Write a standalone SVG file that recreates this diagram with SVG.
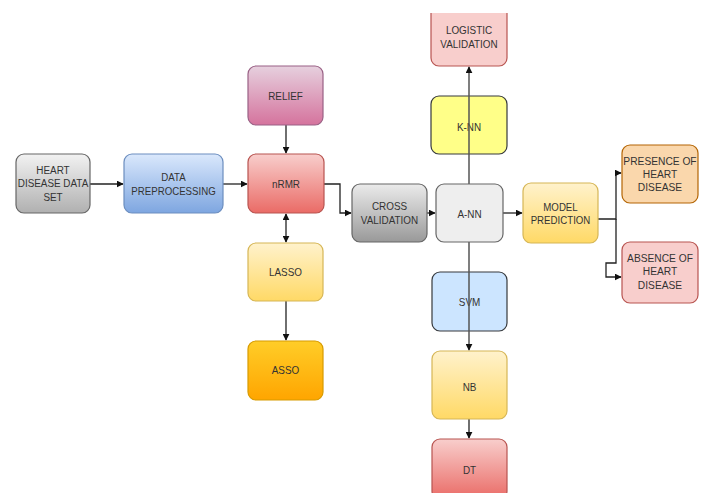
<svg xmlns="http://www.w3.org/2000/svg" width="705" height="493" viewBox="0 0 705 493">
<defs>
<linearGradient id="gGray" x1="0" y1="0" x2="0" y2="1"><stop offset="0" stop-color="#f2f2f2"/><stop offset="1" stop-color="#b0b0b0"/></linearGradient>
<linearGradient id="gGray2" x1="0" y1="0" x2="0" y2="1"><stop offset="0" stop-color="#ebebeb"/><stop offset="1" stop-color="#999999"/></linearGradient>
<linearGradient id="gBlue" x1="0" y1="0" x2="0" y2="1"><stop offset="0" stop-color="#dae8fc"/><stop offset="1" stop-color="#7ea6e0"/></linearGradient>
<linearGradient id="gRed" x1="0" y1="0" x2="0" y2="1"><stop offset="0" stop-color="#f8cecc"/><stop offset="1" stop-color="#ea6b66"/></linearGradient>
<linearGradient id="gPurple" x1="0" y1="0" x2="0" y2="1"><stop offset="0" stop-color="#e6d0de"/><stop offset="1" stop-color="#d5739d"/></linearGradient>
<linearGradient id="gYellow" x1="0" y1="0" x2="0" y2="1"><stop offset="0" stop-color="#fff2cc"/><stop offset="1" stop-color="#ffd966"/></linearGradient>
<linearGradient id="gOrange" x1="0" y1="0" x2="0" y2="1"><stop offset="0" stop-color="#ffcd28"/><stop offset="1" stop-color="#ffa500"/></linearGradient>
<marker id="arr" viewBox="0 0 10 10" refX="9" refY="5" markerWidth="7" markerHeight="7" markerUnits="userSpaceOnUse" orient="auto-start-reverse">
<path d="M0,0 L10,5 L0,10 z" fill="#111"/>
</marker>
<clipPath id="clipTop"><rect x="0" y="13" width="705" height="480"/></clipPath>
</defs>
<style>
.box{stroke-width:1.2}
.lbl{font-family:"Liberation Sans",Arial,sans-serif;font-size:11px;fill:#333;text-anchor:middle}
.con{fill:none;stroke:#222;stroke-width:1.3}
.vcon{fill:none;stroke:#555;stroke-width:1.5}
</style>

<g id="connectors">
<line class="con" x1="90" y1="184" x2="123" y2="184" marker-end="url(#arr)"/>
<line class="con" x1="223" y1="184" x2="247" y2="184" marker-end="url(#arr)"/>
<line class="con" x1="286" y1="125" x2="286" y2="153" marker-end="url(#arr)"/>
<line class="con" x1="286" y1="214" x2="286" y2="242" marker-start="url(#arr)" marker-end="url(#arr)"/>
<line class="con" x1="286" y1="301" x2="286" y2="340" marker-end="url(#arr)"/>
<polyline class="con" points="324,184 340,184 340,213 351,213" marker-end="url(#arr)"/>
<line class="con" x1="427" y1="213" x2="435" y2="213" marker-end="url(#arr)"/>
<line class="con" x1="503" y1="213" x2="522" y2="213" marker-end="url(#arr)"/>
<polyline class="con" points="598,219 616,219 616,173 621,173" marker-end="url(#arr)"/>
<polyline class="con" points="616,219 616,263 606,263 606,277 621,277" marker-end="url(#arr)"/>
<line class="con" x1="469" y1="419" x2="469" y2="438" marker-end="url(#arr)"/>
</g>

<g id="heart-data"><rect class="box" x="16" y="154" width="74" height="59" rx="8" fill="url(#gGray)" stroke="#666"/>
<text class="lbl" transform="translate(53,174) scale(0.9 1)"><tspan x="0" y="0">HEART</tspan><tspan x="0" y="13.5">DISEASE DATA</tspan><tspan x="0" y="27">SET</tspan></text></g>

<g id="data-preprocessing"><rect class="box" x="124" y="154" width="99" height="59" rx="8" fill="url(#gBlue)" stroke="#6c8ebf"/>
<text class="lbl" transform="translate(173.5,181) scale(0.88 1)"><tspan x="0" y="0">DATA</tspan><tspan x="0" y="14">PREPROCESSING</tspan></text></g>

<g id="relief"><rect class="box" x="248" y="66" width="75" height="59" rx="8" fill="url(#gPurple)" stroke="#996185"/>
<text class="lbl" transform="translate(285.5,100) scale(0.9 1)">RELIEF</text></g>

<g id="nrmr"><rect class="box" x="248" y="154" width="76" height="59" rx="8" fill="url(#gRed)" stroke="#b85450"/>
<text class="lbl" transform="translate(286,187.5) scale(0.9 1)">nRMR</text></g>

<g id="lasso"><rect class="box" x="248" y="243" width="75" height="58" rx="8" fill="url(#gYellow)" stroke="#d6b656"/>
<text class="lbl" transform="translate(285.5,276) scale(0.9 1)">LASSO</text></g>

<g id="asso"><rect class="box" x="248" y="341" width="75" height="59" rx="8" fill="url(#gOrange)" stroke="#d79b00"/>
<text class="lbl" transform="translate(285.5,374) scale(0.9 1)">ASSO</text></g>

<g id="cross-validation"><rect class="box" x="352" y="184" width="75" height="58" rx="8" fill="url(#gGray2)" stroke="#666"/>
<text class="lbl" transform="translate(389.5,210) scale(0.9 1)"><tspan x="0" y="0">CROSS</tspan><tspan x="0" y="14.5">VALIDATION</tspan></text></g>

<g id="logistic-validation"><rect class="box" x="431" y="0" width="76" height="66" rx="8" fill="#f8cecc" stroke="#b85450" clip-path="url(#clipTop)"/>
<text class="lbl" transform="translate(469,34) scale(0.9 1)"><tspan x="0" y="0">LOGISTIC</tspan><tspan x="0" y="14">VALIDATION</tspan></text></g>

<g id="knn"><rect class="box" x="431" y="96" width="76" height="58" rx="8" fill="#ffff88" stroke="#36393d"/>
<text class="lbl" transform="translate(469,130.5) scale(0.9 1)">K-NN</text></g>

<g id="svm"><rect class="box" x="432" y="272" width="75" height="59" rx="8" fill="#cce5ff" stroke="#36393d"/>
<text class="lbl" transform="translate(469.5,306) scale(0.9 1)">SVM</text></g>

<g id="nb"><rect class="box" x="432" y="351" width="75" height="68" rx="8" fill="url(#gYellow)" stroke="#d6b656"/>
<text class="lbl" transform="translate(469.5,390.5) scale(0.9 1)">NB</text></g>

<g id="dt"><rect class="box" x="432" y="439" width="75" height="60" rx="8" fill="url(#gRed)" stroke="#b85450"/>
<text class="lbl" transform="translate(469.5,473.5) scale(0.9 1)">DT</text></g>

<g id="ann-lines">
<line class="vcon" x1="469" y1="184" x2="469" y2="67" marker-end="url(#arr)"/>
<line class="vcon" x1="469" y1="242" x2="469" y2="350" marker-end="url(#arr)"/>
</g>

<g id="ann"><rect class="box" x="436" y="184" width="67" height="58" rx="8" fill="#eeeeee" stroke="#666"/>
<text class="lbl" transform="translate(469.5,217.5) scale(0.9 1)">A-NN</text></g>

<g id="model-prediction"><rect class="box" x="523" y="183" width="75" height="60" rx="8" fill="url(#gYellow)" stroke="#d6b656"/>
<text class="lbl" transform="translate(560.5,210.5) scale(0.88 1)"><tspan x="0" y="0">MODEL</tspan><tspan x="0" y="14">PREDICTION</tspan></text></g>

<g id="presence"><rect class="box" x="622" y="145" width="76" height="58" rx="8" fill="#fad7ac" stroke="#b46504"/>
<text class="lbl" transform="translate(660,164.5) scale(0.93 1)"><tspan x="0" y="0">PRESENCE OF</tspan><tspan x="0" y="13.5">HEART</tspan><tspan x="0" y="27">DISEASE</tspan></text></g>

<g id="absence"><rect class="box" x="622" y="242" width="76" height="61" rx="8" fill="#f8cecc" stroke="#b85450"/>
<text class="lbl" transform="translate(660,262) scale(0.93 1)"><tspan x="0" y="0">ABSENCE OF</tspan><tspan x="0" y="13.5">HEART</tspan><tspan x="0" y="27">DISEASE</tspan></text></g>
</svg>
